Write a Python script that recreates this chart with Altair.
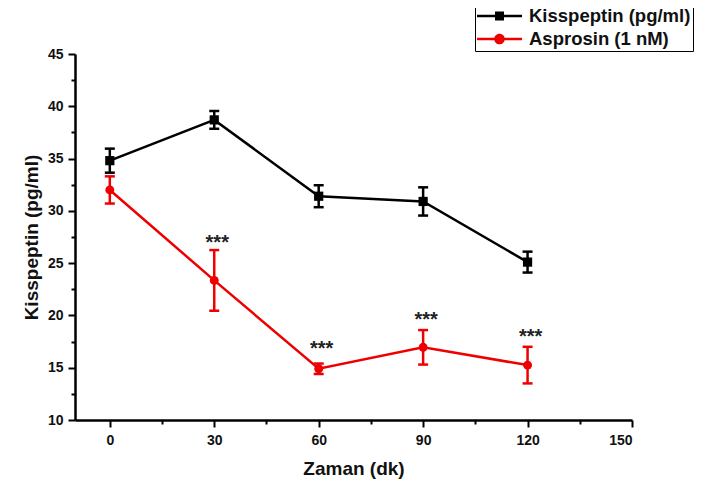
import altair as alt
import pandas as pd

# ---- data ----
times = [0, 30, 60, 90, 120]
series_names = ["Kisspeptin (pg/ml)", "Asprosin (1 nM)"]
kiss_mean = [34.8, 38.7, 31.4, 30.9, 25.1]
kiss_err = [1.15, 0.85, 1.05, 1.35, 1.0]
asp_mean = [32.0, 23.35, 14.9, 16.95, 15.25]
asp_err = [1.3, 2.9, 0.5, 1.65, 1.75]
star_times = [30, 60, 90, 120]
star_y = [27.4, 17.3, 20.0, 18.4]
star_labels = ["***", "***", "***", "***"]
x_major = [0, 30, 60, 90, 120, 150]
x_minor = [15, 45, 75, 105, 135]
y_major = [10, 15, 20, 25, 30, 35, 40, 45]
y_minor = [12.5, 17.5, 22.5, 27.5, 32.5, 37.5, 42.5]
colors = ["#000000", "#ee0000"]

FONT = "Liberation Sans"

rows = []
for name, means, errs in [(series_names[0], kiss_mean, kiss_err),
                          (series_names[1], asp_mean, asp_err)]:
    for t, m, e in zip(times, means, errs):
        rows.append({"series": name, "t": t, "mean": m, "lo": m - e, "hi": m + e})
df = pd.DataFrame(rows)
stars_df = pd.DataFrame({"t": star_times, "y": star_y, "label": star_labels})

xs = alt.Scale(domain=[-10, 150], nice=False, zero=False)
ys = alt.Scale(domain=[10, 45], nice=False, zero=False)
# colour scale for the marks (domain order reversed so it is not merged with the legend scale)
col = alt.Color("series:N",
                scale=alt.Scale(domain=series_names[::-1], range=colors[::-1]),
                legend=None)

common_axis = dict(grid=False, domainColor="black", domainWidth=2.5, tickColor="black",
                   tickWidth=2, labelFont=FONT, labelFontWeight="bold", labelFontSize=14,
                   labelColor="#111111", titleFont=FONT, titleFontWeight="bold",
                   titleFontSize=19, titleColor="#111111")

base = alt.Chart(df)

minor_layer = base.mark_point(opacity=0).encode(
    x=alt.X("t:Q", scale=xs, axis=alt.Axis(orient="bottom", values=x_minor, labels=False,
                                           domain=False, tickSize=4, tickWidth=2,
                                           tickColor="black", grid=False, title=None)),
    y=alt.Y("mean:Q", scale=ys, axis=alt.Axis(orient="left", values=y_minor, labels=False,
                                              domain=False, tickSize=4, tickWidth=2,
                                              tickColor="black", grid=False, title=None)),
)

line_layer = base.mark_line(strokeWidth=2.5).encode(
    x=alt.X("t:Q", scale=xs, axis=alt.Axis(orient="bottom", values=x_major, tickSize=7,
                                           labelPadding=6, title="Zaman (dk)",
                                           titlePadding=12, **common_axis)),
    y=alt.Y("mean:Q", scale=ys, axis=alt.Axis(orient="left", values=y_major, tickSize=7,
                                              labelPadding=5, title="Kisspeptin (pg/ml)",
                                              titlePadding=6, **common_axis)),
    color=col,
)

xn = alt.X("t:Q", scale=xs, axis=None)

rule_layer = base.mark_rule(strokeWidth=2.5).encode(
    x=xn, y=alt.Y("lo:Q", scale=ys, axis=None), y2="hi:Q", color=col)
cap_lo = base.mark_tick(orient="horizontal", size=10, thickness=2.5, opacity=1).encode(
    x=xn, y=alt.Y("lo:Q", scale=ys, axis=None), color=col)
cap_hi = base.mark_tick(orient="horizontal", size=10, thickness=2.5, opacity=1).encode(
    x=xn, y=alt.Y("hi:Q", scale=ys, axis=None), color=col)

sq_layer = base.transform_filter(alt.datum.series == series_names[0]).mark_point(
    shape="square", filled=True, size=85, opacity=1).encode(
    x=xn, y=alt.Y("mean:Q", scale=ys, axis=None), color=col)
ci_layer = base.transform_filter(alt.datum.series == series_names[1]).mark_point(
    shape="circle", filled=True, size=80, opacity=1).encode(
    x=xn, y=alt.Y("mean:Q", scale=ys, axis=None), color=col)

star_layer = alt.Chart(stars_df).mark_text(
    font=FONT, fontSize=20, fontWeight="bold", color="#222222", baseline="alphabetic",
    dx=3, dy=11).encode(
    x=xn, y=alt.Y("y:Q", scale=ys, axis=None), text="label:N")

# legend symbols: a line segment with the series marker, extending right of the
# nominal symbol box into the label gap
legend_paths = [
    "M-1,-0.12H3.5V0.12H-1Z M0.8,-0.45H1.7V0.45H0.8Z",
    "M-1,-0.12H3.5V0.12H-1Z M1.78,0A0.53,0.53 0 1,1 0.72,0A0.53,0.53 0 1,1 1.78,0Z",
]
leg = dict(orient="none", legendX=400, legendY=-50, title=None, labelFont=FONT,
           labelFontSize=18.5, labelFontWeight="bold", labelColor="#111111", labelLimit=400,
           symbolSize=400, symbolStrokeWidth=0, symbolOpacity=1,
           strokeColor="black", padding=2, rowPadding=3, labelOffset=32)
legend_layer = base.transform_filter("false").mark_point(filled=True, opacity=1).encode(
    x=xn, y=alt.Y("mean:Q", scale=ys, axis=None),
    fill=alt.Fill("series:N", scale=alt.Scale(domain=series_names, range=colors),
                  legend=alt.Legend(**leg)),
    shape=alt.Shape("series:N", scale=alt.Scale(domain=series_names, range=legend_paths),
                    legend=alt.Legend(**leg)),
)

chart = alt.layer(
    minor_layer, line_layer, rule_layer, cap_lo, cap_hi, sq_layer, ci_layer,
    star_layer, legend_layer
).resolve_axis(x="independent", y="independent").properties(
    width=557, height=366,
    autosize=alt.AutoSizeParams(type="none"),
    padding={"left": 67, "top": 46, "right": 76, "bottom": 60},
    background="white",
).configure_view(stroke=None)

chart.save("out.html", embed_options={"renderer": "svg", "actions": False})
